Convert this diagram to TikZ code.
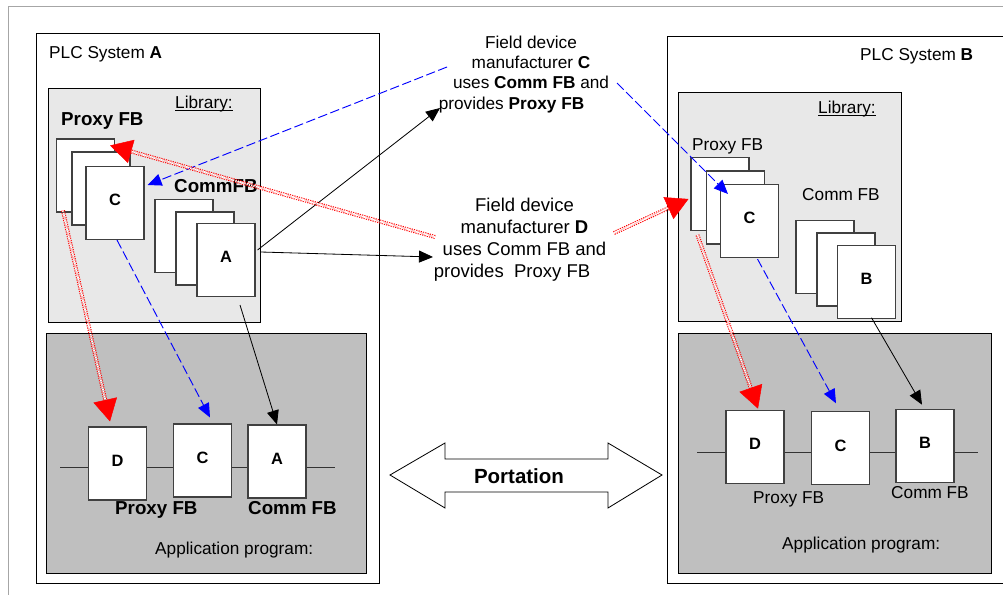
\documentclass[tikz,border=0pt]{standalone}
\usepackage{fontspec}
\setmainfont{Liberation Sans}
\usetikzlibrary{arrows.meta,calc,positioning}

\begin{document}
\begin{tikzpicture}[x=0.03cm, y=-0.03cm,
    sys/.style={draw, line width=0.8pt},
    lib/.style={draw, line width=0.8pt, fill=black!9},
    app/.style={draw, line width=0.8pt, fill=black!25},
    fb/.style={rectangle, draw=black!75, line width=0.9pt, fill=white,
               minimum width=1.74cm, minimum height=2.19cm, inner sep=0pt,
               text depth=0.18cm, font=\fontsize{14}{16}\selectfont\bfseries},
    txt/.style={anchor=base west, inner sep=0pt, font=\fontsize{14.7}{17.3}\selectfont},
    btxt/.style={anchor=base west, inner sep=0pt, font=\fontsize{16}{19}\selectfont\bfseries},
    mfr/.style={anchor=north, inner sep=0pt, align=center},
    wire/.style={draw=black!80, line width=0.8pt},
    blu/.style={-{Triangle[length=0.42cm,width=0.36cm]}, blue, line width=0.8pt,
                dash pattern=on 8pt off 3pt},
    blk/.style={-{Triangle[length=0.42cm,width=0.36cm]}, line width=0.7pt},
    redl/.style={draw=red, line width=0.9pt, double=white, double distance=1.6pt,
                 dash pattern=on 1pt off 1pt, shorten >=0.3cm},
    redtip/.style={red, line width=0.4pt, -{Triangle[length=0.66cm,width=0.72cm]}},
  ]
  \useasboundingbox (0,0) rectangle (1003,595);

  % ===== outer frame =====
  \draw[gray!70, line width=0.8pt] (1003,6) -- (8,6) -- (8,595);

  % ===== PLC System A =====
  \draw[sys] (36,33) rectangle (379,583);
  \node[txt] (titA) at (49,59) {PLC System \textbf{A}};

  % Library A
  \draw[lib] (48,88) rectangle (260,322);
  \node[txt] (libA) at (175,109) {\underline{\smash{Library:}}};
  \node[btxt] (pxlA) at (61,126) {Proxy FB};
  \node[fb] (pxA1) at (85.5,175.5) {};
  \node[fb] (pxA2) at (101,188.5) {};
  \node[fb] (pxA3) at (115,203) {C};
  \node[btxt] (cmlA) at (174,193) {CommFB};
  \node[fb] (cmA1) at (184,236) {};
  \node[fb] (cmA2) at (205,248.5) {};
  \node[fb] (cmA3) at (226,260) {A};

  % Application program A
  \draw[app] (46,333) rectangle (366,573);
  \node[fb] (dA) at (117.5,463.5) {D};
  \node[fb] (cA) at (202.5,460.5) {C};
  \node[fb] (aA) at (277,461.5) {A};
  \coordinate (inA) at (60,467);
  \coordinate (outA) at (335,467);
  \draw[wire] (inA) -- (inA -| dA.west);
  \draw[wire] (dA.east |- inA) -- (inA -| cA.west);
  \draw[wire] (cA.east |- inA) -- (inA -| aA.west);
  \draw[wire] (aA.east |- inA) -- (outA);
  \node[btxt] (pxlA2) at (115,514) {Proxy FB};
  \node[btxt] (cmlA2) at (248,514) {Comm FB};
  \node[txt] (apA) at (155,554) {Application program:};

  % ===== PLC System B =====
  \draw[sys] (1003,36) -- (667,36) -- (667,583) -- (1003,583);
  \node[txt] (titB) at (860,61) {PLC System \textbf{B}};

  % Library B
  \draw[lib] (678,92) rectangle (901,321);
  \node[txt] (libB) at (818,114) {\underline{\smash{Library:}}};
  \node[txt] (pxlB) at (692,151) {Proxy FB};
  \node[fb] (pxB1) at (720,194) {};
  \node[fb] (pxB2) at (735.5,207.5) {};
  \node[fb] (pxB3) at (749.5,221) {C};
  \node[txt] (cmlB) at (802,201) {Comm FB};
  \node[fb] (cmB1) at (825,257.3) {};
  \node[fb] (cmB2) at (846,269.5) {};
  \node[fb] (cmB3) at (866.5,281.7) {B};

  % Application program B
  \draw[app] (678,333) rectangle (991,573);
  \node[fb] (dB) at (755,446.7) {D};
  \node[fb] (cB) at (840.5,448.3) {C};
  \node[fb] (bB) at (925,445.7) {B};
  \coordinate (inB) at (697,452);
  \coordinate (outB) at (978,452);
  \draw[wire] (inB) -- (inB -| dB.west);
  \draw[wire] (dB.east |- inB) -- (inB -| cB.west);
  \draw[wire] (cB.east |- inB) -- (inB -| bB.west);
  \draw[wire] (bB.east |- inB) -- (outB);
  \node[txt] (pxlB2) at (753,503) {Proxy FB};
  \node[txt] (cmlB2) at (891,498) {Comm FB};
  \node[txt] (apB) at (782,549) {Application program:};

  % ===== field device manufacturers =====
  \node[mfr, font=\fontsize{14.7}{17.3}\selectfont] (mfrC) at (531,35.7)
    {Field device\\manufacturer \textbf{C}\\uses \textbf{Comm FB} and\\provides \textbf{Proxy FB}\hspace*{1.17cm}};
  \node[mfr, font=\fontsize{15.8}{18.8}\selectfont] (mfrD) at (524.5,197.5)
    {Field device\\manufacturer \textbf{D}\\uses Comm FB and\\provides\ \ Proxy FB\hspace*{0.75cm}};

  % ===== portation =====
  \draw[line width=0.7pt] (390,475) -- (445,443) -- (445,459) -- (608,459) -- (608,443)
    -- (662,475) -- (608,508) -- (608,492) -- (445,492) -- (445,508) -- cycle;
  \node[font=\fontsize{17.5}{20}\selectfont\bfseries, inner sep=0pt, anchor=base] (port) at (519,483) {Portation};

  % ===== blue: manufacturer C =====
  \coordinate (bC1) at (447,67);
  \coordinate (bC2) at (617,83);
  \draw[blu] (bC1) -- ($(pxA3.east)+(3,-18)$);
  \draw[blu] (bC2) -- ($(pxB3.north west)+(8,10)$);
  \draw[blu] ($(pxA3.south)+(2,0)$) -- ($(cA.north)+(7.5,-6)$);
  \draw[blu] ($(pxB3.south)+(8,1)$) -- ($(cB.north)+(-4.5,-8)$);

  % ===== black: Comm FB =====
  \coordinate (kC) at (440,108);
  \coordinate (kD) at (433,257);
  \draw[blk] ($(cmA3.east)+(2,-10)$) -- (kC);
  \draw[blk] ($(cmA3.east)+(5,-8)$) -- (kD);
  \draw[blk] ($(cmA3.south)+(14,8)$) -- (aA.north);
  \draw[blk] ($(cmB3.south)+(5,-1)$) -- ($(bB.north)+(-3,-4)$);

  % ===== red: manufacturer D =====
  \coordinate (r1s) at (435,237);
  \coordinate (r1e) at ($(pxA1.north east)+(-5,7)$);
  \coordinate (r2s) at (614,233);
  \coordinate (r2e) at ($(pxB1.west)+(-2,5)$);
  \coordinate (r3s) at ($(pxA1.south west)+(7,-2)$);
  \coordinate (r3e) at ($(dA.north)+(-7.5,-5)$);
  \coordinate (r4s) at ($(pxB1.south west)+(7,4)$);
  \coordinate (r4e) at ($(dB.north)+(3,-1)$);
  \draw[redl] (r1s) -- (r1e);
  \draw[redtip] ($(r1e)!0.66cm!(r1s)$) -- (r1e);
  \draw[redl] (r2s) -- (r2e);
  \draw[redtip] ($(r2e)!0.66cm!(r2s)$) -- (r2e);
  \draw[redl] (r3s) -- (r3e);
  \draw[redtip] ($(r3e)!0.66cm!(r3s)$) -- (r3e);
  \draw[redl] (r4s) -- (r4e);
  \draw[redtip] ($(r4e)!0.66cm!(r4s)$) -- (r4e);

\end{tikzpicture}
\end{document}
